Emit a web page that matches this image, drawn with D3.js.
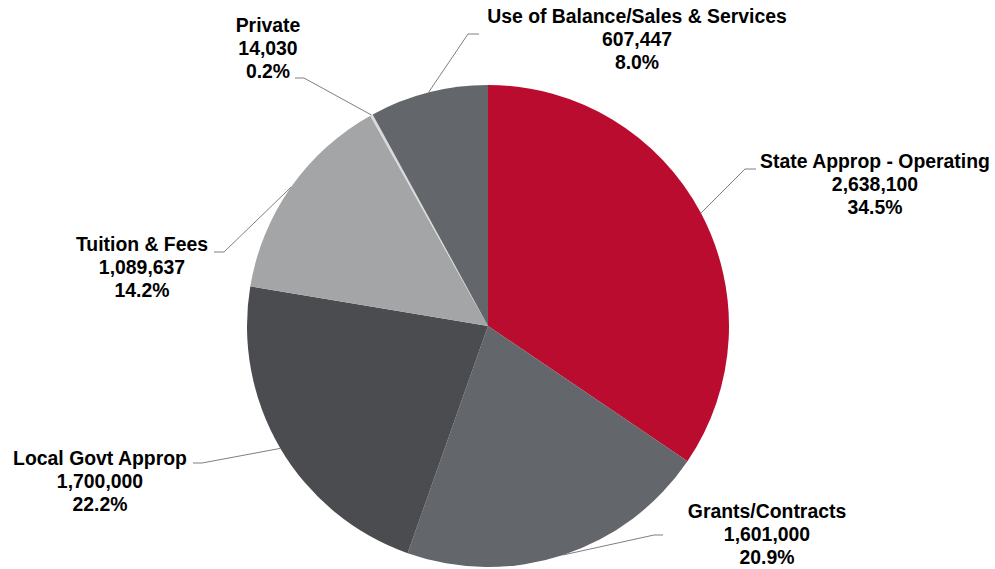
<!DOCTYPE html>
<html>
<head>
<meta charset="utf-8">
<script src="https://cdn.jsdelivr.net/npm/d3@7"></script>
<style>
  html, body { margin: 0; padding: 0; background: #fff; }
  svg { display: block; }
  text { font-family: "Liberation Sans", Arial, sans-serif; font-weight: bold; font-size: 19.4px; fill: #000; }
</style>
</head>
<body>
<svg id="chart" width="995" height="569"></svg>
<script>
// Revenue sources, clockwise from 12 o'clock
const categories = [
  "State Approp - Operating",
  "Grants/Contracts",
  "Local Govt Approp",
  "Tuition & Fees",
  "Private",
  "Use of Balance/Sales & Services"
];
const amounts = [2638100, 1601000, 1700000, 1089637, 14030, 607447];
const percentLabels = ["34.5%", "20.9%", "22.2%", "14.2%", "0.2%", "8.0%"];
const sliceColors = ["#BA0C2F", "#63666A", "#4B4C50", "#A3A5A7", "#DADADA", "#63666A"];

// Label placement: text centre, first baseline, leader elbow and leader end
const labelLayout = [
  { cx: 875, y: 168, elbow: [745, 169], end: [756, 169] },
  { cx: 767, y: 518, elbow: [654, 535], end: [663, 535] },
  { cx: 100, y: 465, elbow: [202, 463], end: [193, 463] },
  { cx: 142, y: 251, elbow: [224, 252], end: [214, 252] },
  { cx: 268, y: 32,  elbow: [304, 78],  end: [295, 78] },
  { cx: 637, y: 23,  elbow: [468, 34],  end: [479, 34] }
];

const svg = d3.select("#chart");
const cx = 488, cy = 326, radius = 241;
const lineGap = 23;

const rows = categories.map((c, i) => ({ name: c, value: amounts[i], pct: percentLabels[i], color: sliceColors[i], layout: labelLayout[i] }));

const pie = d3.pie().value(d => d.value).sort(null);
const arcs = pie(rows);
const arc = d3.arc().innerRadius(0).outerRadius(radius);

const g = svg.append("g").attr("transform", `translate(${cx},${cy})`);

g.selectAll("path.slice")
  .data(arcs)
  .join("path")
  .attr("class", "slice")
  .attr("d", arc)
  .attr("fill", d => d.data.color);

// Leader lines start on the rim at each slice's mid-angle
const fmt = d3.format(",");
const leaders = svg.append("g");
arcs.forEach(a => {
  const mid = (a.startAngle + a.endAngle) / 2;
  const sx = cx + radius * Math.sin(mid);
  const sy = cy - radius * Math.cos(mid);
  const L = a.data.layout;
  leaders.append("polyline")
    .attr("points", [[sx, sy], L.elbow, L.end].map(p => p.join(",")).join(" "))
    .attr("fill", "none")
    .attr("stroke", "#7F7F7F")
    .attr("stroke-width", 1);
});

const labels = svg.append("g");
arcs.forEach(a => {
  const L = a.data.layout;
  const t = labels.append("text").attr("text-anchor", "middle");
  [a.data.name, fmt(a.data.value), a.data.pct].forEach((s, k) => {
    t.append("tspan").attr("x", L.cx).attr("y", L.y + k * lineGap).text(s);
  });
});
</script>
</body>
</html>
